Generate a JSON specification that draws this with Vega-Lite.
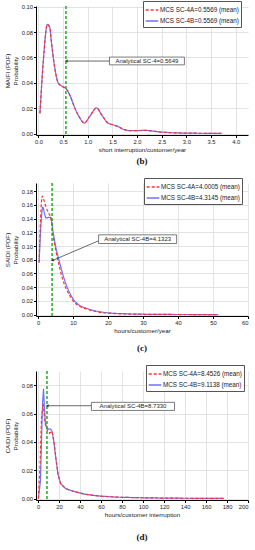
{
  "$schema": "https://vega.github.io/schema/vega-lite/v6.json",
  "padding": {"left": 4, "top": 0, "right": 0, "bottom": 0},
  "background": "white",
  "spacing": 11,
  "config": {
    "view": {"stroke": null},
    "font": "Liberation Sans",
    "axis": {"labelFontSize": 5.8, "titleFontSize": 6.2, "titleFontWeight": "normal", "domainColor": "#000", "tickColor": "#000", "tickSize": 2.5, "labelPadding": 1, "gridColor": "#dcdcdc", "gridWidth": 0.8, "labelColor": "#222", "titleColor": "#222", "titlePadding": 2, "labelOverlap": false},
    "legend": {"labelFontSize": 6.3, "labelColor": "#222", "symbolType": "stroke", "symbolSize": 160, "symbolStrokeWidth": 1.3, "strokeColor": "#555", "fillColor": "white", "padding": 2, "rowPadding": 0, "labelOffset": 1, "labelLimit": 200},
    "title": {"font": "Liberation Serif", "fontSize": 9, "fontWeight": "bold", "orient": "bottom", "anchor": "middle", "color": "#111"}
  },
  "datasets": {
    "b": [
      {"x": 0.03, "y": 0.016, "s": "MCS SC-4B=0.5569 (mean)"},
      {"x": 0.1, "y": 0.058, "s": "MCS SC-4B=0.5569 (mean)"},
      {"x": 0.18, "y": 0.086, "s": "MCS SC-4B=0.5569 (mean)"},
      {"x": 0.23, "y": 0.0836, "s": "MCS SC-4B=0.5569 (mean)"},
      {"x": 0.26, "y": 0.073, "s": "MCS SC-4B=0.5569 (mean)"},
      {"x": 0.33, "y": 0.052, "s": "MCS SC-4B=0.5569 (mean)"},
      {"x": 0.4, "y": 0.04, "s": "MCS SC-4B=0.5569 (mean)"},
      {"x": 0.47, "y": 0.0375, "s": "MCS SC-4B=0.5569 (mean)"},
      {"x": 0.57, "y": 0.035, "s": "MCS SC-4B=0.5569 (mean)"},
      {"x": 0.64, "y": 0.03, "s": "MCS SC-4B=0.5569 (mean)"},
      {"x": 0.74, "y": 0.02, "s": "MCS SC-4B=0.5569 (mean)"},
      {"x": 0.84, "y": 0.0124, "s": "MCS SC-4B=0.5569 (mean)"},
      {"x": 0.93, "y": 0.0084, "s": "MCS SC-4B=0.5569 (mean)"},
      {"x": 1.04, "y": 0.0137, "s": "MCS SC-4B=0.5569 (mean)"},
      {"x": 1.18, "y": 0.0203, "s": "MCS SC-4B=0.5569 (mean)"},
      {"x": 1.28, "y": 0.015, "s": "MCS SC-4B=0.5569 (mean)"},
      {"x": 1.41, "y": 0.0084, "s": "MCS SC-4B=0.5569 (mean)"},
      {"x": 1.51, "y": 0.0071, "s": "MCS SC-4B=0.5569 (mean)"},
      {"x": 1.61, "y": 0.0058, "s": "MCS SC-4B=0.5569 (mean)"},
      {"x": 1.74, "y": 0.0032, "s": "MCS SC-4B=0.5569 (mean)"},
      {"x": 1.88, "y": 0.0024, "s": "MCS SC-4B=0.5569 (mean)"},
      {"x": 2.16, "y": 0.0026, "s": "MCS SC-4B=0.5569 (mean)"},
      {"x": 2.49, "y": 0.0013, "s": "MCS SC-4B=0.5569 (mean)"},
      {"x": 2.97, "y": 0.0005, "s": "MCS SC-4B=0.5569 (mean)"},
      {"x": 3.71, "y": 0.0003, "s": "MCS SC-4B=0.5569 (mean)"},
      {"x": 0.03, "y": 0.016, "s": "MCS SC-4A=0.5569 (mean)"},
      {"x": 0.1, "y": 0.058, "s": "MCS SC-4A=0.5569 (mean)"},
      {"x": 0.18, "y": 0.086, "s": "MCS SC-4A=0.5569 (mean)"},
      {"x": 0.23, "y": 0.0836, "s": "MCS SC-4A=0.5569 (mean)"},
      {"x": 0.26, "y": 0.073, "s": "MCS SC-4A=0.5569 (mean)"},
      {"x": 0.33, "y": 0.052, "s": "MCS SC-4A=0.5569 (mean)"},
      {"x": 0.4, "y": 0.04, "s": "MCS SC-4A=0.5569 (mean)"},
      {"x": 0.47, "y": 0.0375, "s": "MCS SC-4A=0.5569 (mean)"},
      {"x": 0.57, "y": 0.035, "s": "MCS SC-4A=0.5569 (mean)"},
      {"x": 0.64, "y": 0.03, "s": "MCS SC-4A=0.5569 (mean)"},
      {"x": 0.74, "y": 0.02, "s": "MCS SC-4A=0.5569 (mean)"},
      {"x": 0.84, "y": 0.0124, "s": "MCS SC-4A=0.5569 (mean)"},
      {"x": 0.93, "y": 0.0084, "s": "MCS SC-4A=0.5569 (mean)"},
      {"x": 1.04, "y": 0.0137, "s": "MCS SC-4A=0.5569 (mean)"},
      {"x": 1.18, "y": 0.0203, "s": "MCS SC-4A=0.5569 (mean)"},
      {"x": 1.28, "y": 0.015, "s": "MCS SC-4A=0.5569 (mean)"},
      {"x": 1.41, "y": 0.0084, "s": "MCS SC-4A=0.5569 (mean)"},
      {"x": 1.51, "y": 0.0071, "s": "MCS SC-4A=0.5569 (mean)"},
      {"x": 1.61, "y": 0.0058, "s": "MCS SC-4A=0.5569 (mean)"},
      {"x": 1.74, "y": 0.0032, "s": "MCS SC-4A=0.5569 (mean)"},
      {"x": 1.88, "y": 0.0024, "s": "MCS SC-4A=0.5569 (mean)"},
      {"x": 2.16, "y": 0.0026, "s": "MCS SC-4A=0.5569 (mean)"},
      {"x": 2.49, "y": 0.0013, "s": "MCS SC-4A=0.5569 (mean)"},
      {"x": 2.97, "y": 0.0005, "s": "MCS SC-4A=0.5569 (mean)"},
      {"x": 3.71, "y": 0.0003, "s": "MCS SC-4A=0.5569 (mean)"}
    ],
    "c": [
      {"x": 0.3, "y": 0.076, "s": "MCS SC-4B=4.3145 (mean)"},
      {"x": 0.8, "y": 0.13, "s": "MCS SC-4B=4.3145 (mean)"},
      {"x": 1.35, "y": 0.157, "s": "MCS SC-4B=4.3145 (mean)"},
      {"x": 1.8, "y": 0.148, "s": "MCS SC-4B=4.3145 (mean)"},
      {"x": 2.3, "y": 0.141, "s": "MCS SC-4B=4.3145 (mean)"},
      {"x": 3.0, "y": 0.142, "s": "MCS SC-4B=4.3145 (mean)"},
      {"x": 3.6, "y": 0.142, "s": "MCS SC-4B=4.3145 (mean)"},
      {"x": 4.3, "y": 0.12, "s": "MCS SC-4B=4.3145 (mean)"},
      {"x": 5, "y": 0.1, "s": "MCS SC-4B=4.3145 (mean)"},
      {"x": 6, "y": 0.079, "s": "MCS SC-4B=4.3145 (mean)"},
      {"x": 7, "y": 0.06, "s": "MCS SC-4B=4.3145 (mean)"},
      {"x": 8, "y": 0.044, "s": "MCS SC-4B=4.3145 (mean)"},
      {"x": 9, "y": 0.032, "s": "MCS SC-4B=4.3145 (mean)"},
      {"x": 10, "y": 0.023, "s": "MCS SC-4B=4.3145 (mean)"},
      {"x": 12, "y": 0.013, "s": "MCS SC-4B=4.3145 (mean)"},
      {"x": 14, "y": 0.009, "s": "MCS SC-4B=4.3145 (mean)"},
      {"x": 16, "y": 0.006, "s": "MCS SC-4B=4.3145 (mean)"},
      {"x": 18, "y": 0.004, "s": "MCS SC-4B=4.3145 (mean)"},
      {"x": 20, "y": 0.0026, "s": "MCS SC-4B=4.3145 (mean)"},
      {"x": 25, "y": 0.0012, "s": "MCS SC-4B=4.3145 (mean)"},
      {"x": 30, "y": 0.0006, "s": "MCS SC-4B=4.3145 (mean)"},
      {"x": 40, "y": 0.0002, "s": "MCS SC-4B=4.3145 (mean)"},
      {"x": 51.5, "y": 0.0001, "s": "MCS SC-4B=4.3145 (mean)"},
      {"x": 0.3, "y": 0.076, "s": "MCS SC-4A=4.0005 (mean)"},
      {"x": 0.7, "y": 0.14, "s": "MCS SC-4A=4.0005 (mean)"},
      {"x": 1.2, "y": 0.173, "s": "MCS SC-4A=4.0005 (mean)"},
      {"x": 1.6, "y": 0.168, "s": "MCS SC-4A=4.0005 (mean)"},
      {"x": 2.2, "y": 0.158, "s": "MCS SC-4A=4.0005 (mean)"},
      {"x": 3.0, "y": 0.148, "s": "MCS SC-4A=4.0005 (mean)"},
      {"x": 3.6, "y": 0.142, "s": "MCS SC-4A=4.0005 (mean)"},
      {"x": 4.3, "y": 0.115, "s": "MCS SC-4A=4.0005 (mean)"},
      {"x": 5, "y": 0.095, "s": "MCS SC-4A=4.0005 (mean)"},
      {"x": 6, "y": 0.072, "s": "MCS SC-4A=4.0005 (mean)"},
      {"x": 7, "y": 0.052, "s": "MCS SC-4A=4.0005 (mean)"},
      {"x": 8, "y": 0.038, "s": "MCS SC-4A=4.0005 (mean)"},
      {"x": 9, "y": 0.028, "s": "MCS SC-4A=4.0005 (mean)"},
      {"x": 10, "y": 0.02, "s": "MCS SC-4A=4.0005 (mean)"},
      {"x": 12, "y": 0.012, "s": "MCS SC-4A=4.0005 (mean)"},
      {"x": 14, "y": 0.008, "s": "MCS SC-4A=4.0005 (mean)"},
      {"x": 16, "y": 0.005, "s": "MCS SC-4A=4.0005 (mean)"},
      {"x": 18, "y": 0.003, "s": "MCS SC-4A=4.0005 (mean)"},
      {"x": 20, "y": 0.0022, "s": "MCS SC-4A=4.0005 (mean)"},
      {"x": 25, "y": 0.001, "s": "MCS SC-4A=4.0005 (mean)"},
      {"x": 30, "y": 0.0005, "s": "MCS SC-4A=4.0005 (mean)"},
      {"x": 40, "y": 0.0002, "s": "MCS SC-4A=4.0005 (mean)"},
      {"x": 51.5, "y": 0.0001, "s": "MCS SC-4A=4.0005 (mean)"}
    ],
    "d": [
      {"x": 0.3, "y": 0.0, "s": "MCS SC-4B=9.1138 (mean)"},
      {"x": 2.2, "y": 0.012, "s": "MCS SC-4B=9.1138 (mean)"},
      {"x": 3.4, "y": 0.045, "s": "MCS SC-4B=9.1138 (mean)"},
      {"x": 4.3, "y": 0.068, "s": "MCS SC-4B=9.1138 (mean)"},
      {"x": 5.2, "y": 0.0775, "s": "MCS SC-4B=9.1138 (mean)"},
      {"x": 6.0, "y": 0.065, "s": "MCS SC-4B=9.1138 (mean)"},
      {"x": 7.0, "y": 0.052, "s": "MCS SC-4B=9.1138 (mean)"},
      {"x": 8.5, "y": 0.05, "s": "MCS SC-4B=9.1138 (mean)"},
      {"x": 10, "y": 0.049, "s": "MCS SC-4B=9.1138 (mean)"},
      {"x": 12, "y": 0.049, "s": "MCS SC-4B=9.1138 (mean)"},
      {"x": 13.5, "y": 0.047, "s": "MCS SC-4B=9.1138 (mean)"},
      {"x": 15, "y": 0.04, "s": "MCS SC-4B=9.1138 (mean)"},
      {"x": 17, "y": 0.028, "s": "MCS SC-4B=9.1138 (mean)"},
      {"x": 19, "y": 0.017, "s": "MCS SC-4B=9.1138 (mean)"},
      {"x": 21.5, "y": 0.0105, "s": "MCS SC-4B=9.1138 (mean)"},
      {"x": 26, "y": 0.0072, "s": "MCS SC-4B=9.1138 (mean)"},
      {"x": 30, "y": 0.006, "s": "MCS SC-4B=9.1138 (mean)"},
      {"x": 36, "y": 0.0047, "s": "MCS SC-4B=9.1138 (mean)"},
      {"x": 45, "y": 0.003, "s": "MCS SC-4B=9.1138 (mean)"},
      {"x": 58, "y": 0.0018, "s": "MCS SC-4B=9.1138 (mean)"},
      {"x": 75, "y": 0.001, "s": "MCS SC-4B=9.1138 (mean)"},
      {"x": 97, "y": 0.0006, "s": "MCS SC-4B=9.1138 (mean)"},
      {"x": 123, "y": 0.0003, "s": "MCS SC-4B=9.1138 (mean)"},
      {"x": 150, "y": 0.0002, "s": "MCS SC-4B=9.1138 (mean)"},
      {"x": 177, "y": 0.0001, "s": "MCS SC-4B=9.1138 (mean)"},
      {"x": 0.2, "y": 0.0, "s": "MCS SC-4A=8.4526 (mean)"},
      {"x": 1.8, "y": 0.022, "s": "MCS SC-4A=8.4526 (mean)"},
      {"x": 3.2, "y": 0.057, "s": "MCS SC-4A=8.4526 (mean)"},
      {"x": 4.8, "y": 0.067, "s": "MCS SC-4A=8.4526 (mean)"},
      {"x": 6.4, "y": 0.055, "s": "MCS SC-4A=8.4526 (mean)"},
      {"x": 8, "y": 0.05, "s": "MCS SC-4A=8.4526 (mean)"},
      {"x": 9.2, "y": 0.0475, "s": "MCS SC-4A=8.4526 (mean)"},
      {"x": 10.9, "y": 0.046, "s": "MCS SC-4A=8.4526 (mean)"},
      {"x": 12.9, "y": 0.0475, "s": "MCS SC-4A=8.4526 (mean)"},
      {"x": 14, "y": 0.045, "s": "MCS SC-4A=8.4526 (mean)"},
      {"x": 15.5, "y": 0.038, "s": "MCS SC-4A=8.4526 (mean)"},
      {"x": 17, "y": 0.028, "s": "MCS SC-4A=8.4526 (mean)"},
      {"x": 19, "y": 0.017, "s": "MCS SC-4A=8.4526 (mean)"},
      {"x": 21.5, "y": 0.0105, "s": "MCS SC-4A=8.4526 (mean)"},
      {"x": 26, "y": 0.0072, "s": "MCS SC-4A=8.4526 (mean)"},
      {"x": 30, "y": 0.006, "s": "MCS SC-4A=8.4526 (mean)"},
      {"x": 36, "y": 0.0047, "s": "MCS SC-4A=8.4526 (mean)"},
      {"x": 45, "y": 0.003, "s": "MCS SC-4A=8.4526 (mean)"},
      {"x": 58, "y": 0.0018, "s": "MCS SC-4A=8.4526 (mean)"},
      {"x": 75, "y": 0.001, "s": "MCS SC-4A=8.4526 (mean)"},
      {"x": 97, "y": 0.0006, "s": "MCS SC-4A=8.4526 (mean)"},
      {"x": 123, "y": 0.0003, "s": "MCS SC-4A=8.4526 (mean)"},
      {"x": 150, "y": 0.0002, "s": "MCS SC-4A=8.4526 (mean)"},
      {"x": 177, "y": 0.0001, "s": "MCS SC-4A=8.4526 (mean)"}
    ],
    "bann": [{"label": "Analytical SC-4=0.5649", "mean": 0.5569, "value": 0.5649, "tx": 2.2, "ty": 0.0572, "bx1": 1.44, "bx2": 2.96, "by1": 0.0542, "by2": 0.0603, "ax1": 1.44, "ay1": 0.0572, "ax2": 0.5649, "ay2": 0.0572}],
    "cann": [{"label": "Analytical SC-4B=4.1323", "mean": 4.0005, "value": 4.1323, "tx": 28.45, "ty": 0.11, "bx1": 17.3, "bx2": 39.6, "by1": 0.1037, "by2": 0.1164, "ax1": 17.3, "ay1": 0.1077, "ax2": 4.1323, "ay2": 0.079}],
    "dann": [{"label": "Analytical SC-4B=8.7330", "mean": 8.4526, "value": 8.733, "tx": 90.4, "ty": 0.065, "bx1": 50.8, "bx2": 130, "by1": 0.0622, "by2": 0.0679, "ax1": 50.8, "ay1": 0.0655, "ax2": 8.733, "ay2": 0.0655}]
  },
  "vconcat": [
    {
      "width": 212, "height": 129,
      "title": {"text": "(b)", "offset": 4},
      "layer": [
        {
          "data": {"name": "b"},
          "mark": {"type": "line", "strokeWidth": 1.2, "interpolate": "monotone"},
          "encoding": {
            "x": {"field": "x", "type": "quantitative", "scale": {"domain": [-0.05, 4.25], "nice": false, "zero": false}, "axis": {"values": [0, 0.5, 1, 1.5, 2, 2.5, 3, 3.5, 4], "format": ".1f", "title": "short interruption/customer/year"}},
            "y": {"field": "y", "type": "quantitative", "scale": {"domain": [-0.001, 0.1005], "nice": false, "zero": false}, "axis": {"values": [0, 0.02, 0.04, 0.06, 0.08, 0.1], "format": ".2f", "title": ["MAIFI (PDF)", "Probability"], "titlePadding": 3}},
            "color": {"field": "s", "type": "nominal", "scale": {"domain": ["MCS SC-4A=0.5569 (mean)", "MCS SC-4B=0.5569 (mean)"], "range": ["#ff3030", "#7070ff"]}, "legend": {"title": null, "orient": "none", "legendX": 107, "legendY": -5}},
            "strokeDash": {"field": "s", "type": "nominal", "scale": {"domain": ["MCS SC-4A=0.5569 (mean)", "MCS SC-4B=0.5569 (mean)"], "range": [[3, 2], [1, 0]]}, "legend": {"title": null, "orient": "none", "legendX": 107, "legendY": -5}}
          }
        },
        {"data": {"name": "bann"}, "mark": {"type": "rule", "color": "#22aa22", "strokeDash": [3, 2], "strokeWidth": 1.5}, "encoding": {"x": {"field": "mean", "type": "quantitative", "scale": {"domain": [-0.05, 4.25], "nice": false, "zero": false}, "axis": {"values": [0, 0.5, 1, 1.5, 2, 2.5, 3, 3.5, 4], "format": ".1f", "title": "short interruption/customer/year"}}}},
        {"data": {"name": "bann"}, "mark": {"type": "rule", "color": "#444", "strokeWidth": 0.8}, "encoding": {"x": {"field": "ax1", "type": "quantitative", "axis": {"values": [0, 0.5, 1, 1.5, 2, 2.5, 3, 3.5, 4], "format": ".1f", "title": "short interruption/customer/year"}}, "y": {"field": "ay1", "type": "quantitative", "axis": {"values": [0, 0.02, 0.04, 0.06, 0.08, 0.1], "format": ".2f", "title": ["MAIFI (PDF)", "Probability"], "titlePadding": 3}}, "x2": {"field": "ax2"}, "y2": {"field": "ay2"}}},
        {"data": {"name": "bann"}, "mark": {"type": "point", "shape": "triangle-left", "filled": true, "color": "#333", "size": 10, "opacity": 1}, "encoding": {"x": {"field": "ax2", "type": "quantitative", "axis": {"values": [0, 0.5, 1, 1.5, 2, 2.5, 3, 3.5, 4], "format": ".1f", "title": "short interruption/customer/year"}}, "y": {"field": "ay2", "type": "quantitative", "axis": {"values": [0, 0.02, 0.04, 0.06, 0.08, 0.1], "format": ".2f", "title": ["MAIFI (PDF)", "Probability"], "titlePadding": 3}}}},
        {"data": {"name": "bann"}, "mark": {"type": "rect", "fill": "white", "stroke": "#444", "strokeWidth": 0.7}, "encoding": {"x": {"field": "bx1", "type": "quantitative", "axis": {"values": [0, 0.5, 1, 1.5, 2, 2.5, 3, 3.5, 4], "format": ".1f", "title": "short interruption/customer/year"}}, "x2": {"field": "bx2"}, "y": {"field": "by1", "type": "quantitative", "axis": {"values": [0, 0.02, 0.04, 0.06, 0.08, 0.1], "format": ".2f", "title": ["MAIFI (PDF)", "Probability"], "titlePadding": 3}}, "y2": {"field": "by2"}}},
        {"data": {"name": "bann"}, "mark": {"type": "text", "fontSize": 6, "color": "#222"}, "encoding": {"x": {"field": "tx", "type": "quantitative", "axis": {"values": [0, 0.5, 1, 1.5, 2, 2.5, 3, 3.5, 4], "format": ".1f", "title": "short interruption/customer/year"}}, "y": {"field": "ty", "type": "quantitative", "axis": {"values": [0, 0.02, 0.04, 0.06, 0.08, 0.1], "format": ".2f", "title": ["MAIFI (PDF)", "Probability"], "titlePadding": 3}}, "text": {"field": "label"}}}
      ],
      "resolve": {"scale": {"color": "independent", "strokeDash": "independent"}}
    },
    {
      "width": 212, "height": 133,
      "title": {"text": "(c)", "offset": 10},
      "layer": [
        {
          "data": {"name": "c"},
          "mark": {"type": "line", "strokeWidth": 1.2, "interpolate": "monotone"},
          "encoding": {
            "x": {"field": "x", "type": "quantitative", "scale": {"domain": [-0.6, 60], "nice": false, "zero": false}, "axis": {"values": [0, 10, 20, 30, 40, 50, 60], "format": "d", "title": "hours/customer/year"}},
            "y": {"field": "y", "type": "quantitative", "scale": {"domain": [-0.002, 0.192], "nice": false, "zero": false}, "axis": {"values": [0, 0.02, 0.04, 0.06, 0.08, 0.1, 0.12, 0.14, 0.16, 0.18], "format": ".2f", "title": ["SAIDI (PDF)", "Probability"], "titlePadding": 3}},
            "color": {"field": "s", "type": "nominal", "scale": {"domain": ["MCS SC-4A=4.0005 (mean)", "MCS SC-4B=4.3145 (mean)"], "range": ["#ff3030", "#7070ff"]}, "legend": {"title": null, "orient": "none", "legendX": 108, "legendY": -5}},
            "strokeDash": {"field": "s", "type": "nominal", "scale": {"domain": ["MCS SC-4A=4.0005 (mean)", "MCS SC-4B=4.3145 (mean)"], "range": [[3, 2], [1, 0]]}, "legend": {"title": null, "orient": "none", "legendX": 108, "legendY": -5}}
          }
        },
        {"data": {"name": "cann"}, "mark": {"type": "rule", "color": "#22aa22", "strokeDash": [3, 2], "strokeWidth": 1.5}, "encoding": {"x": {"field": "mean", "type": "quantitative", "axis": {"values": [0, 10, 20, 30, 40, 50, 60], "format": "d", "title": "hours/customer/year"}}}},
        {"data": {"name": "cann"}, "mark": {"type": "rule", "color": "#444", "strokeWidth": 0.8}, "encoding": {"x": {"field": "ax1", "type": "quantitative", "axis": {"values": [0, 10, 20, 30, 40, 50, 60], "format": "d", "title": "hours/customer/year"}}, "y": {"field": "ay1", "type": "quantitative", "axis": {"values": [0, 0.02, 0.04, 0.06, 0.08, 0.1, 0.12, 0.14, 0.16, 0.18], "format": ".2f", "title": ["SAIDI (PDF)", "Probability"], "titlePadding": 3}}, "x2": {"field": "ax2"}, "y2": {"field": "ay2"}}},
        {"data": {"name": "cann"}, "mark": {"type": "point", "shape": "triangle-left", "filled": true, "color": "#333", "size": 10, "opacity": 1, "angle": -24}, "encoding": {"x": {"field": "ax2", "type": "quantitative", "axis": {"values": [0, 10, 20, 30, 40, 50, 60], "format": "d", "title": "hours/customer/year"}}, "y": {"field": "ay2", "type": "quantitative", "axis": {"values": [0, 0.02, 0.04, 0.06, 0.08, 0.1, 0.12, 0.14, 0.16, 0.18], "format": ".2f", "title": ["SAIDI (PDF)", "Probability"], "titlePadding": 3}}}},
        {"data": {"name": "cann"}, "mark": {"type": "rect", "fill": "white", "stroke": "#444", "strokeWidth": 0.7}, "encoding": {"x": {"field": "bx1", "type": "quantitative", "axis": {"values": [0, 10, 20, 30, 40, 50, 60], "format": "d", "title": "hours/customer/year"}}, "x2": {"field": "bx2"}, "y": {"field": "by1", "type": "quantitative", "axis": {"values": [0, 0.02, 0.04, 0.06, 0.08, 0.1, 0.12, 0.14, 0.16, 0.18], "format": ".2f", "title": ["SAIDI (PDF)", "Probability"], "titlePadding": 3}}, "y2": {"field": "by2"}}},
        {"data": {"name": "cann"}, "mark": {"type": "text", "fontSize": 6, "color": "#222"}, "encoding": {"x": {"field": "tx", "type": "quantitative", "axis": {"values": [0, 10, 20, 30, 40, 50, 60], "format": "d", "title": "hours/customer/year"}}, "y": {"field": "ty", "type": "quantitative", "axis": {"values": [0, 0.02, 0.04, 0.06, 0.08, 0.1, 0.12, 0.14, 0.16, 0.18], "format": ".2f", "title": ["SAIDI (PDF)", "Probability"], "titlePadding": 3}}, "text": {"field": "label"}}}
      ],
      "resolve": {"scale": {"color": "independent", "strokeDash": "independent"}}
    },
    {
      "width": 212, "height": 129,
      "title": {"text": "(d)", "offset": 15},
      "layer": [
        {
          "data": {"name": "d"},
          "mark": {"type": "line", "strokeWidth": 1.2, "interpolate": "linear"},
          "encoding": {
            "x": {"field": "x", "type": "quantitative", "scale": {"domain": [-2, 200], "nice": false, "zero": false}, "axis": {"values": [0, 20, 40, 60, 80, 100, 120, 140, 160, 180, 200], "format": "d", "title": "hours/customer interruption"}},
            "y": {"field": "y", "type": "quantitative", "scale": {"domain": [-0.001, 0.09], "nice": false, "zero": false}, "axis": {"values": [0, 0.02, 0.04, 0.06, 0.08], "format": ".2f", "title": ["CAIDI (PDF)", "Probability"], "titlePadding": 3}},
            "color": {"field": "s", "type": "nominal", "scale": {"domain": ["MCS SC-4A=8.4526 (mean)", "MCS SC-4B=9.1138 (mean)"], "range": ["#ff3030", "#7070ff"]}, "legend": {"title": null, "orient": "none", "legendX": 110, "legendY": -6}},
            "strokeDash": {"field": "s", "type": "nominal", "scale": {"domain": ["MCS SC-4A=8.4526 (mean)", "MCS SC-4B=9.1138 (mean)"], "range": [[3, 2], [1, 0]]}, "legend": {"title": null, "orient": "none", "legendX": 110, "legendY": -6}}
          }
        },
        {"data": {"name": "dann"}, "mark": {"type": "rule", "color": "#22aa22", "strokeDash": [3, 2], "strokeWidth": 1.5}, "encoding": {"x": {"field": "mean", "type": "quantitative", "axis": {"values": [0, 20, 40, 60, 80, 100, 120, 140, 160, 180, 200], "format": "d", "title": "hours/customer interruption"}}}},
        {"data": {"name": "dann"}, "mark": {"type": "rule", "color": "#444", "strokeWidth": 0.8}, "encoding": {"x": {"field": "ax1", "type": "quantitative", "axis": {"values": [0, 20, 40, 60, 80, 100, 120, 140, 160, 180, 200], "format": "d", "title": "hours/customer interruption"}}, "y": {"field": "ay1", "type": "quantitative", "axis": {"values": [0, 0.02, 0.04, 0.06, 0.08], "format": ".2f", "title": ["CAIDI (PDF)", "Probability"], "titlePadding": 3}}, "x2": {"field": "ax2"}, "y2": {"field": "ay2"}}},
        {"data": {"name": "dann"}, "mark": {"type": "point", "shape": "triangle-left", "filled": true, "color": "#333", "size": 10, "opacity": 1}, "encoding": {"x": {"field": "ax2", "type": "quantitative", "axis": {"values": [0, 20, 40, 60, 80, 100, 120, 140, 160, 180, 200], "format": "d", "title": "hours/customer interruption"}}, "y": {"field": "ay2", "type": "quantitative", "axis": {"values": [0, 0.02, 0.04, 0.06, 0.08], "format": ".2f", "title": ["CAIDI (PDF)", "Probability"], "titlePadding": 3}}}},
        {"data": {"name": "dann"}, "mark": {"type": "rect", "fill": "white", "stroke": "#444", "strokeWidth": 0.7}, "encoding": {"x": {"field": "bx1", "type": "quantitative", "axis": {"values": [0, 20, 40, 60, 80, 100, 120, 140, 160, 180, 200], "format": "d", "title": "hours/customer interruption"}}, "x2": {"field": "bx2"}, "y": {"field": "by1", "type": "quantitative", "axis": {"values": [0, 0.02, 0.04, 0.06, 0.08], "format": ".2f", "title": ["CAIDI (PDF)", "Probability"], "titlePadding": 3}}, "y2": {"field": "by2"}}},
        {"data": {"name": "dann"}, "mark": {"type": "text", "fontSize": 6, "color": "#222"}, "encoding": {"x": {"field": "tx", "type": "quantitative", "axis": {"values": [0, 20, 40, 60, 80, 100, 120, 140, 160, 180, 200], "format": "d", "title": "hours/customer interruption"}}, "y": {"field": "ty", "type": "quantitative", "axis": {"values": [0, 0.02, 0.04, 0.06, 0.08], "format": ".2f", "title": ["CAIDI (PDF)", "Probability"], "titlePadding": 3}}, "text": {"field": "label"}}}
      ],
      "resolve": {"scale": {"color": "independent", "strokeDash": "independent"}}
    }
  ],
  "resolve": {"scale": {"color": "independent", "strokeDash": "independent", "x": "independent", "y": "independent"}, "legend": {"color": "independent", "strokeDash": "independent"}}
}
